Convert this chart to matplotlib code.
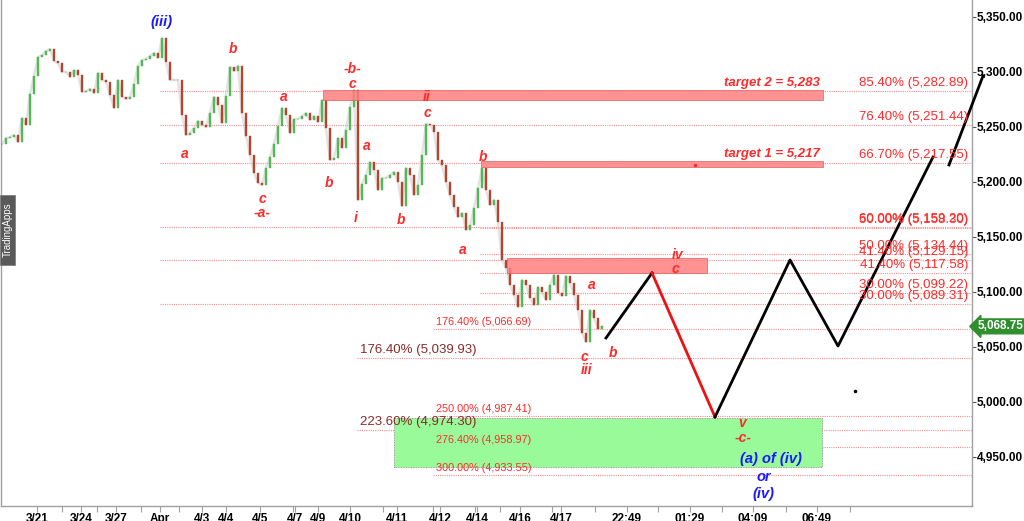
import numpy as np
import matplotlib
matplotlib.use("Agg")
import matplotlib.pyplot as plt
from matplotlib.patches import Rectangle

plt.rcParams['font.family'] = ['Liberation Sans', 'DejaVu Sans']

# closing prices, one per bar
closes = [
    5234.5, 5240.0, 5240.9, 5242.7, 5236.4, 5258.2, 5251.8, 5280.0, 5296.4, 5313.6,
    5315.5, 5319.1, 5320.9, 5310.0, 5308.2, 5300.0, 5300.0, 5295.5, 5301.8, 5297.3,
    5281.8, 5282.7, 5284.5, 5280.9, 5299.1, 5292.7, 5290.9, 5279.1, 5267.3, 5292.7,
    5277.3, 5275.5, 5277.3, 5289.1, 5305.5, 5310.9, 5311.8, 5314.5, 5317.3, 5312.7,
    5330.9, 5309.1, 5292.7, 5292.7, 5292.7, 5260.9, 5242.7, 5244.5, 5249.1, 5255.5,
    5251.8, 5250.0, 5262.7, 5277.3, 5270.0, 5253.6, 5278.2, 5304.5, 5300.9, 5305.5,
    5262.7, 5241.8, 5224.5, 5208.2, 5199.1, 5197.3, 5212.7, 5222.7, 5234.5, 5250.9,
    5267.3, 5260.9, 5244.5, 5257.3, 5257.3, 5260.0, 5262.7, 5256.4, 5260.0, 5254.5,
    5274.5, 5249.1, 5220.0, 5221.8, 5240.0, 5230.9, 5247.3, 5268.2, 5283.6, 5183.6,
    5198.2, 5206.4, 5218.2, 5210.9, 5192.7, 5203.6, 5203.6, 5206.4, 5209.1, 5200.0,
    5178.2, 5212.7, 5206.4, 5188.2, 5197.3, 5224.5, 5252.7, 5251.8, 5245.5, 5220.0,
    5215.5, 5200.0, 5188.2, 5177.3, 5168.2, 5171.8, 5156.4, 5160.9, 5176.4, 5194.5,
    5212.7, 5192.7, 5179.1, 5183.6, 5163.6, 5129.1, 5121.8, 5106.4, 5097.3, 5086.4,
    5110.9, 5106.4, 5094.5, 5088.2, 5104.5, 5100.0, 5092.7, 5106.4, 5115.5, 5099.1,
    5096.4, 5114.5, 5108.2, 5097.3, 5083.6, 5062.7, 5054.5, 5083.6, 5076.4, 5066.4,
    5068.75,
]
last_price = 5068.75

# x axis labels (bar positions)
tick_bars = [8.75, 19.75, 28.5, 39.5, 50, 56, 64.5, 73.25, 79, 87, 98.75, 109.5,
             118.75, 129.5, 139.75, 156.25, 172, 187.75, 203.75]
tick_labels = ['3/21', '3/24', '3/27', 'Apr', '4/3', '4/4', '4/5', '4/7', '4/9', '4/10',
               '4/11', '4/12', '4/14', '4/16', '4/17', '22:49', '01:29', '04:09', '06:49']
minor_bars = [15, 23.75, 34.75, 44.25, 72.75, 95.25, 107.75, 118.25, 124.5, 137.5,
              148.25, 164, 180, 196, 212]

# fibonacci levels: (value, start bar)
fib_levels = [5282.89, 5251.44, 5217.55, 5159.20, 5158.30, 5134.44, 5129.15, 5117.58,
              5099.22, 5089.31, 5066.69, 5039.93, 4987.41, 4974.30, 4958.97, 4933.55]
fib_start = [39.5, 39.5, 39.5, 39.5, 119.5, 119.5, 39.5, 119.5,
             119.5, 39.5, 107.75, 88.75, 107.75, 88.75, 107.75, 107.75]
right_labels = ['85.40% (5,282.89)', '76.40% (5,251.44)', '66.70% (5,217.55)',
                '60.00% (5,159.20)', '50.00% (5,158.30)', '50.00% (5,134.44)',
                '41.40% (5,129.15)', '41.40% (5,117.58)', '30.00% (5,099.22)',
                '30.00% (5,089.31)']
left_small = ['176.40% (5,066.69)', '250.00% (4,987.41)', '276.40% (4,958.97)',
              '300.00% (4,933.55)']
left_small_lv = [5066.69, 4987.41, 4958.97, 4933.55]
left_big = ['176.40% (5,039.93)', '223.60% (4,974.30)']
left_big_lv = [5039.93, 4974.30]

# target zones: (bar0, bar1, low, high)
red_boxes = [(80.25, 205.25, 5274.5, 5283.6),
             (119.75, 205.25, 5213.6, 5219.1),
             (126.25, 176.25, 5117.3, 5130.9)]
green_box = (98, 205, 4940.9, 4985.5)

# projected path
proj_bars = [151, 162.5, 178.25, 197, 209, 232.75]
proj_price = [5058.2, 5117.3, 4986.4, 5129.1, 5050.9, 5222.7]
proj2_bars = [236.75, 245.25]
proj2_price = [5215.5, 5296.4]

# wave labels: (text, bar, price)
red_waves = [('b', 57.75, 5320.9), ('a', 45.75, 5225.5), ('c', 65, 5184.5), ('-a-', 65, 5171.8),
             ('a', 70.5, 5277.3), ('b', 81.75, 5199.1), ('-b-', 87.75, 5302.7), ('c', 87.5, 5289.1),
             ('i', 88.5, 5167.3), ('ii', 106.25, 5277.3), ('c', 106.25, 5262.7), ('a', 91.25, 5232.7),
             ('b', 99.75, 5165.5), ('a', 115.25, 5138.2), ('b', 120.25, 5222.7), ('iv', 169, 5133.6),
             ('c', 168.25, 5120.9), ('a', 147.5, 5106.4), ('c', 145.5, 5040.9), ('iii', 146.25, 5029.1),
             ('b', 152.75, 5044.5), ('v', 185, 4980.9), ('-c-', 185.25, 4967.3)]
blue_waves = [('(iii)', 40, 5345.4), ('(a) of (iv)', 192.25, 4948.2), ('or', 190.5, 4931.8),
              ('(iv)', 190.25, 4916.4)]

RED = '#ff2a2a'
FIB = '#ff8c8c'

fig = plt.figure(figsize=(10.24, 5.21), dpi=100)
ax = fig.add_axes([1 / 1024, 15 / 521, 971 / 1024, 506 / 521])
ax.set_xlim(-0.25, 242.5)
ax.set_ylim(4905.45, 5365.45)

# candles
c = np.array(closes)
o = np.r_[c[0], c[:-1]]
x = np.arange(len(c))
up = c >= o
ax.plot(x, c, color='#c8c8c8', lw=1.8, alpha=0.5, zorder=2)
ax.bar(x[up], c[up] - o[up], bottom=o[up], width=0.45, color='#52b957',
       edgecolor='#52b957', lw=0.3, zorder=3)
ax.bar(x[~up], c[~up] - o[~up], bottom=o[~up], width=0.45, color='#a8452c',
       edgecolor='#d04a3a', lw=0.3, zorder=3)

# fib lines
for lv, st in zip(fib_levels, fib_start):
    ax.hlines(lv, st, 242.5, colors=FIB, linestyles=(0, (1, 1)), lw=0.8, zorder=1)

for txt, lv in zip(right_labels, fib_levels[:10]):
    ax.annotate(txt, (241.5, lv), xytext=(0, 1.5), textcoords='offset points',
                ha='right', va='bottom', color=RED, fontsize=9.5, zorder=6)
for txt, lv in zip(left_small, left_small_lv):
    ax.annotate(txt, (108.5, lv), xytext=(0, 1.5), textcoords='offset points',
                ha='left', va='bottom', color=RED, fontsize=7.8, zorder=6)
for txt, lv in zip(left_big, left_big_lv):
    ax.annotate(txt, (89.5, lv), xytext=(0, 1.5), textcoords='offset points',
                ha='left', va='bottom', color='#8b2a2a', fontsize=9.5, zorder=6)

# zones
for b0, b1, lo, hi in red_boxes:
    ax.add_patch(Rectangle((b0, lo), b1 - b0, hi - lo, facecolor='#ff8080', alpha=0.85,
                           edgecolor='#e06060', lw=0.6, zorder=4))
b0, b1, lo, hi = green_box
ax.add_patch(Rectangle((b0, lo), b1 - b0, hi - lo, facecolor='#99fa99',
                       edgecolor='#888888', lw=0.6, ls=(0, (1, 1)), zorder=1.5))

ax.text(204.5, red_boxes[0][3] + 1, 'target 2 = 5,283', ha='right', va='bottom',
        color=RED, fontsize=9.5, fontweight='bold', style='italic', zorder=6)
ax.text(204.5, red_boxes[1][3] + 1, 'target 1 = 5,217', ha='right', va='bottom',
        color=RED, fontsize=9.5, fontweight='bold', style='italic', zorder=6)

# projection
ax.plot(proj_bars[:2], proj_price[:2], color='black', lw=2, zorder=5)
ax.plot(proj_bars[1:3], proj_price[1:3], color='#ee1111', lw=2, zorder=5)
ax.plot(proj_bars[2:], proj_price[2:], color='black', lw=2, zorder=5)
ax.plot(proj2_bars, proj2_price, color='black', lw=2, zorder=5, clip_on=False)
ax.plot([173.25], [5215.5], marker='o', ms=1.5, color=RED, zorder=6)
ax.plot([213.25], [5010.0], marker='o', ms=1.5, color='black', zorder=6)

for t, bx, py in red_waves:
    ax.text(bx, py, t, ha='center', va='center', color=RED, fontsize=10,
            fontweight='bold', style='italic', zorder=7)
for t, bx, py in blue_waves:
    ax.text(bx, py, t, ha='center', va='center', color='#1a1aff', fontsize=10.5,
            fontweight='bold', style='italic', zorder=7)

# axes styling
ax.spines['top'].set_visible(False)
for s in ['left', 'right', 'bottom']:
    ax.spines[s].set_color('#a0a0a0')
    ax.spines[s].set_linewidth(1)
ax.yaxis.tick_right()
yt = np.arange(4950, 5351, 50)
ax.set_yticks(yt)
ax.set_yticklabels([f'{v:,.2f}' for v in yt], fontsize=8.5, fontweight='bold')
ax.tick_params(axis='y', length=3, width=0.8, color='#555555', pad=0.5)
ax.set_xticks(tick_bars)
ax.set_xticklabels(tick_labels, fontsize=8.5, fontweight='bold')
ax.set_xticks(minor_bars, minor=True)
ax.tick_params(axis='x', which='both', length=4, width=0.8, color='#a0a0a0', pad=1)

# last price tag
ax.annotate(f'{last_price:,.2f}', (242.5, last_price), xytext=(4, 0),
            textcoords='offset points', ha='left', va='center', color='white',
            fontsize=8.5, fontweight='bold', annotation_clip=False,
            bbox=dict(boxstyle='larrow,pad=0.12', fc='#2f8f2f', ec='#2f8f2f'))

# watermark tab
fig.patches.append(Rectangle((0, 256 / 521), 15 / 1024, 70 / 521, transform=fig.transFigure,
                             facecolor='#5a5a5a', edgecolor='#777777', lw=0.5, zorder=10))
fig.text(8 / 1024, 291 / 521, 'TradingApps', rotation=90, color='white', fontsize=7,
         ha='center', va='center', zorder=11)

fig.savefig('out.png', dpi=100)
